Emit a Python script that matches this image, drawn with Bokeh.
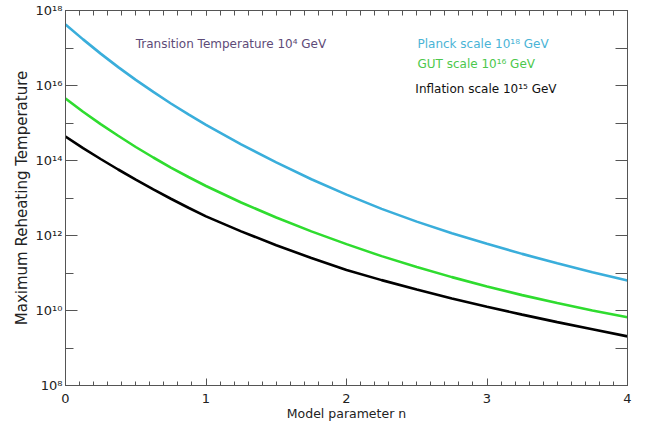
from bokeh.plotting import figure
from bokeh.models import (Range1d, FixedTicker, LinearAxis, LogAxis, Label,
                          CustomJSTickFormatter)
from bokeh.embed import file_html
from bokeh.resources import INLINE

# ---- data (log10 of maximum reheating temperature)
n = [0.0, 0.125, 0.25, 0.375, 0.5, 0.625, 0.75, 0.875, 1.0, 1.25, 1.5, 1.75,
     2.0, 2.25, 2.5, 2.75, 3.0, 3.25, 3.5, 3.75, 4.0]
planck_log = [17.63, 17.23, 16.85, 16.49, 16.15, 15.83, 15.52, 15.23, 14.95,
              14.43, 13.95, 13.50, 13.09, 12.71, 12.37, 12.06, 11.78, 11.51,
              11.26, 11.02, 10.80]
gut_log = [15.65, 15.30, 14.97, 14.66, 14.36, 14.08, 13.81, 13.56, 13.32,
           12.88, 12.48, 12.11, 11.77, 11.45, 11.16, 10.89, 10.64, 10.41,
           10.20, 10.00, 9.82]
infl_log = [14.64, 14.33, 14.04, 13.76, 13.49, 13.23, 12.98, 12.74, 12.51,
            12.11, 11.74, 11.40, 11.08, 10.81, 10.56, 10.32, 10.10, 9.89,
            9.69, 9.50, 9.31]

x_ticks = [0, 1, 2, 3, 4]
y_ticks = [1e8, 1e10, 1e12, 1e14, 1e16, 1e18]
y_minor = [1e9, 1e11, 1e13, 1e15, 1e17]

planck = [10 ** v for v in planck_log]
gut = [10 ** v for v in gut_log]
infl = [10 ** v for v in infl_log]

FONT = "DejaVu Sans"
AXIS_COLOR = "#555555"

p = figure(width=646, height=428, output_backend="svg", toolbar_location=None,
           y_axis_type="log", x_range=Range1d(0, 4), y_range=Range1d(1e8, 1e18),
           min_border_left=65, min_border_right=19, min_border_top=10,
           min_border_bottom=43)
p.grid.visible = False
p.outline_line_color = AXIS_COLOR
p.background_fill_color = "white"
p.border_fill_color = "white"

p.line(n, planck, line_color="#3aaedb", line_width=2.6)
p.line(n, gut, line_color="#2fdc2f", line_width=2.6)
p.line(n, infl, line_color="black", line_width=2.6)

xt = FixedTicker(ticks=x_ticks, minor_ticks=[i / 10 for i in range(41)])
yt = FixedTicker(ticks=y_ticks, minor_ticks=y_minor)

sup_fmt = CustomJSTickFormatter(code="""
const sup = {'0':'\u2070','1':'\u00b9','2':'\u00b2','3':'\u00b3','4':'\u2074',
             '5':'\u2075','6':'\u2076','7':'\u2077','8':'\u2078','9':'\u2079'};
const e = Math.round(Math.log10(tick));
return '10' + String(e).split('').map(c => sup[c]).join('');
""")
blank_fmt = CustomJSTickFormatter(code="return '';")

xa = p.xaxis[0]
xa.ticker = xt
xa.axis_label = "Model parameter n"
xa.major_tick_in = 7
xa.major_tick_out = 0
xa.minor_tick_in = 4
xa.minor_tick_out = 0
xa.major_label_standoff = 8
xa.axis_label_standoff = 0

ya = p.yaxis[0]
ya.ticker = yt
ya.formatter = sup_fmt
ya.axis_label = "Maximum Reheating Temperature"
ya.major_tick_in = 12
ya.major_tick_out = 0
ya.minor_tick_in = 8
ya.minor_tick_out = 0
ya.major_label_standoff = 3
ya.axis_label_standoff = 2

for ax in (xa, ya):
    ax.axis_line_color = AXIS_COLOR
    ax.major_tick_line_color = AXIS_COLOR
    ax.minor_tick_line_color = AXIS_COLOR
    ax.major_label_text_font = FONT
    ax.major_label_text_font_size = "13px"
    ax.major_label_text_color = "#222222"
    ax.axis_label_text_font = FONT
    ax.axis_label_text_font_style = "normal"
    ax.axis_label_text_color = "#222222"
xa.axis_label_text_font_size = "12.5px"
ya.axis_label_text_font_size = "15px"

top = LinearAxis(ticker=xt, formatter=blank_fmt, major_label_text_font_size="1px",
                 major_label_standoff=0, major_tick_in=5, major_tick_out=0,
                 minor_tick_in=5, minor_tick_out=0, axis_line_color=AXIS_COLOR,
                 major_tick_line_color=AXIS_COLOR, minor_tick_line_color=AXIS_COLOR)
right = LogAxis(ticker=yt, formatter=blank_fmt, major_label_text_font_size="1px",
                major_label_standoff=0, major_tick_in=12, major_tick_out=0,
                minor_tick_in=12, minor_tick_out=0, axis_line_color=AXIS_COLOR,
                major_tick_line_color=AXIS_COLOR, minor_tick_line_color=AXIS_COLOR)
p.add_layout(top, "above")
p.add_layout(right, "right")

labels = [
    ("Transition Temperature 10\u2074 GeV", 0.5, 17.12, "#5e4b78"),
    ("Planck scale 10\u00b9\u2078 GeV", 2.505, 17.12, "#4ab4d6"),
    ("GUT scale 10\u00b9\u2076 GeV", 2.505, 16.58, "#4cc84c"),
    ("Inflation scale 10\u00b9\u2075 GeV", 2.49, 15.91, "#111111"),
]
for txt, lx, ly, col in labels:
    p.add_layout(Label(x=lx, y=10 ** ly, text=txt, text_font=FONT,
                       text_font_size="12px", text_color=col,
                       text_baseline="middle", text_align="left"))

open("out.html", "w").write(file_html(p, INLINE))
